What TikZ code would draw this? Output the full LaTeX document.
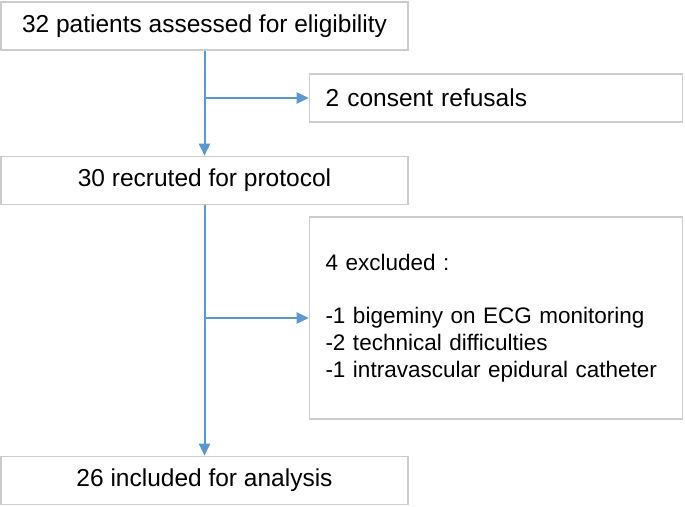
\documentclass[tikz,border=0pt]{standalone}
\usepackage{fontspec}
\setmainfont{Liberation Sans}
\usepackage{tikz}
\usetikzlibrary{arrows.meta}
\definecolor{flowblue}{RGB}{91,151,208}
\definecolor{boxgray}{RGB}{204,204,204}
\tikzset{>/.tip={Triangle[length=12pt,width=11pt]},
  stagebox/.style={draw=boxgray, line width=1.6pt, rectangle, inner sep=0pt,
    minimum width=407pt, minimum height=48pt,
    font=\fontsize{24.5}{30}\selectfont},
  sidebox/.style={draw=boxgray, line width=1.6pt, rectangle, inner sep=0pt,
    minimum width=373pt, text width=341pt, align=left},
  flow/.style={->, draw=flowblue, line width=2pt}}

\begin{document}
\begin{tikzpicture}[x=1pt, y=-1pt]
\useasboundingbox (0,0) rectangle (685,506);
\node[stagebox] (assessed) at (204.5,26) {32 patients assessed for eligibility};
\node[sidebox, minimum height=48pt, font=\fontsize{24.5}{30}\selectfont] (refusals) at (496,98) {2 consent refusals};
\node[stagebox] (recruited) at (204.5,180.5) {30 recruted for protocol};
\node[sidebox, minimum height=202pt, font=\fontsize{22.5}{26.6}\selectfont] (excluded) at (496,318)
  {4 excluded :\\[26.6pt]-1 bigeminy on ECG monitoring\\-2 technical difficulties\\-1 intravascular epidural catheter};
\node[stagebox] (included) at (204.5,480.5) {26 included for analysis};

\coordinate (branch1) at (assessed.south |- refusals.west);
\coordinate (branch2) at (recruited.south |- excluded.west);

\draw[flow] (assessed.south) -- (recruited.north);
\draw[flow] (branch1) -- (refusals.west);
\draw[flow] (recruited.south) -- (included.north);
\draw[flow] (branch2) -- (excluded.west);
\end{tikzpicture}
\end{document}
